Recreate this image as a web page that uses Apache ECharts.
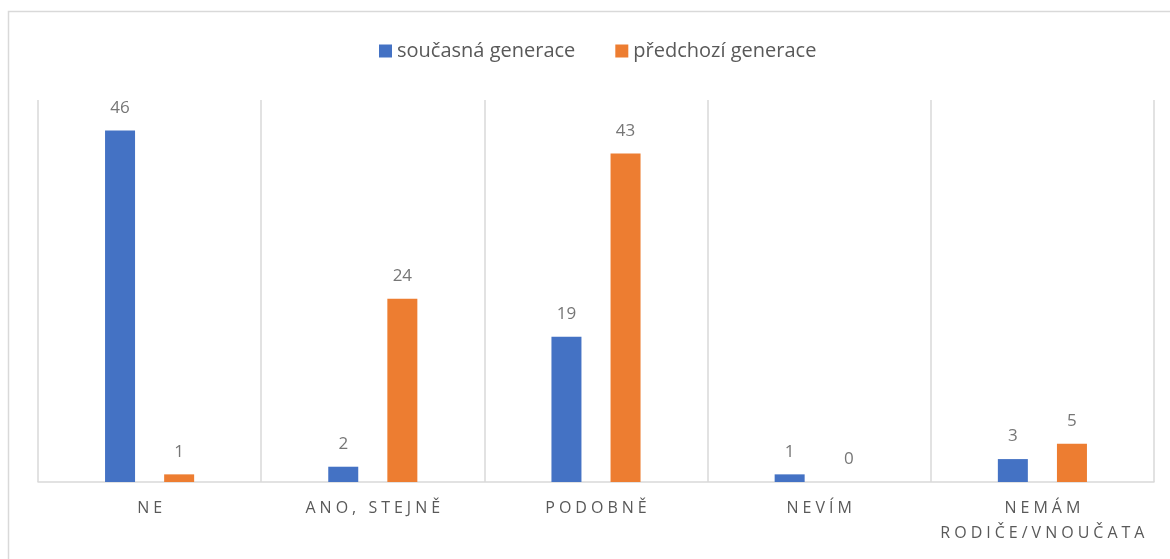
<!DOCTYPE html>
<html>
<head>
<meta charset="utf-8">
<script src="https://cdn.jsdelivr.net/npm/echarts@6/dist/echarts.min.js"></script>
<style>
  html, body { margin: 0; padding: 0; background: #fff; }
  #chart { width: 1170px; height: 559px; }
</style>
</head>
<body>
<div id="chart"></div>
<script>
// Answer categories and counts for the two generations
const categories = ['NE', 'ANO, STEJNĚ', 'PODOBNĚ', 'NEVÍM', 'NEMÁM\nRODIČE/VNOUČATA'];
const seriesNames = ['současná generace', 'předchozí generace'];
const currentGen = [46, 2, 19, 1, 3];
const previousGen = [1, 24, 43, 0, 5];

const FONT = '"Open Sans", sans-serif';
const TEXT = '#595959';
const LINE = '#d9d9d9';

// Spread capital letters apart like tracked axis text
function spaced(s) {
  return s.split('\n').map(line => Array.from(line).join('\u2005')).join('\n');
}

const chart = echarts.init(document.getElementById('chart'));
chart.setOption({
  animation: false,
  textStyle: { fontFamily: FONT },
  graphic: [{
    type: 'rect',
    shape: { x: 8.5, y: 11.5, width: 1300, height: 700 },
    style: { fill: 'none', stroke: LINE, lineWidth: 1.5 },
    silent: true
  }],
  legend: {
    left: 374, top: 36,
    itemWidth: 13, itemHeight: 13, itemGap: 40,
    icon: 'rect',
    textStyle: { color: TEXT, fontSize: 20, fontFamily: FONT },
    data: seriesNames
  },
  grid: { left: 38, right: 16, top: 100, bottom: 77 },
  xAxis: {
    type: 'category',
    data: categories,
    axisLine: { lineStyle: { color: LINE, width: 1.5 } },
    axisTick: { show: false },
    splitLine: { show: true, lineStyle: { color: LINE, width: 1.5 } },
    axisLabel: {
      color: TEXT, fontSize: 16, lineHeight: 25, margin: 14, interval: 0,
      fontFamily: FONT,
      formatter: v => spaced(v)
    }
  },
  yAxis: {
    type: 'value', min: 0, max: 50, show: false,
    splitLine: { show: false }
  },
  series: [
    {
      name: seriesNames[0], type: 'bar', data: currentGen,
      barWidth: 30, barGap: '97%',
      itemStyle: { color: '#4472C4' },
      label: { show: true, position: 'top', distance: 14, color: '#767676', fontSize: 17, fontFamily: FONT }
    },
    {
      name: seriesNames[1], type: 'bar', data: previousGen,
      barWidth: 30,
      itemStyle: { color: '#ED7D31' },
      label: { show: true, position: 'top', distance: 14, color: '#767676', fontSize: 17, fontFamily: FONT }
    }
  ]
});
</script>
</body>
</html>
